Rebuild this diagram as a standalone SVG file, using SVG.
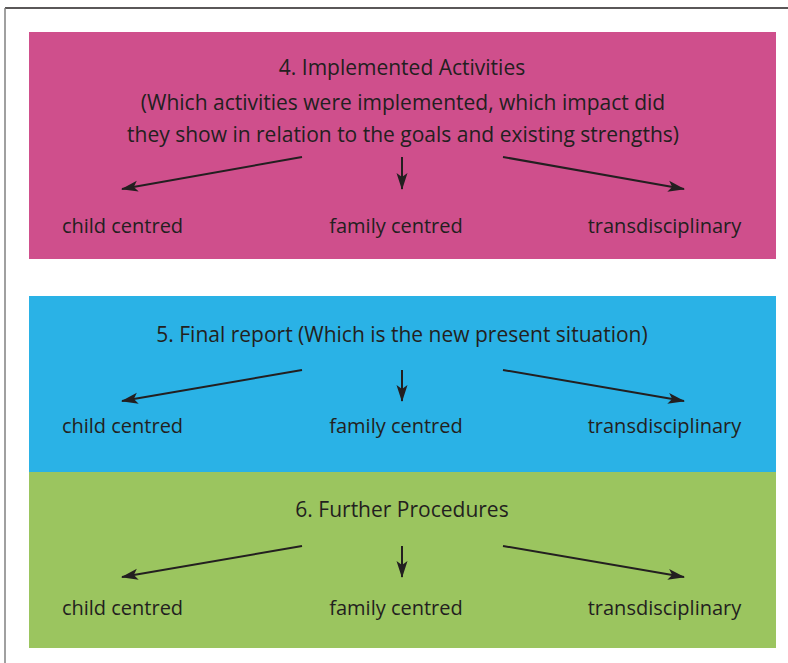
<svg xmlns="http://www.w3.org/2000/svg" width="788" height="663" viewBox="0 0 788 663">
<defs>
<style>
.t{font-family:"Open Sans","Liberation Sans",sans-serif;font-size:20px;fill:#231F20}
.h{font-size:21px}
.c{text-anchor:middle}
.a{stroke:#231F20;stroke-width:2;fill:none;marker-end:url(#ah)}
</style>
<marker id="ah" markerUnits="userSpaceOnUse" markerWidth="18" markerHeight="12" refX="16" refY="6" orient="auto" viewBox="0 0 18 12">
<path d="M0,0.5 L17,6 L0,11.5 L4,6 Z" fill="#231F20"/>
</marker>
</defs>
<rect width="788" height="663" fill="#fff"/>
<line x1="5" y1="8" x2="788" y2="8" stroke="#231F20" stroke-width="1.5"/>
<line x1="5" y1="8" x2="5" y2="663" stroke="#808080" stroke-width="1.5"/>
<g id="panel4">
<rect x="29" y="32" width="747" height="227" fill="#CF4F8C"/>
<text class="t h c" x="402" y="75">4. Implemented Activities</text>
<text class="t h c" x="403" y="110">(Which activities were implemented, which impact did</text>
<text class="t h c" x="403" y="142">they show in relation to the goals and existing strengths)</text>
<text class="t c" x="122.5" y="233">child centred</text>
<text class="t c" x="396" y="233">family centred</text>
<text class="t c" x="664.5" y="233">transdisciplinary</text>
</g>
<g id="panel5">
<rect x="29" y="296" width="747" height="176" fill="#2AB2E6"/>
<text class="t h c" x="402" y="342">5. Final report (Which is the new present situation)</text>
<text class="t c" x="122.5" y="433">child centred</text>
<text class="t c" x="396" y="433">family centred</text>
<text class="t c" x="664.5" y="433">transdisciplinary</text>
</g>
<g id="panel6">
<rect x="29" y="472" width="747" height="176" fill="#9BC55F"/>
<text class="t h c" x="402" y="517">6. Further Procedures</text>
<text class="t c" x="122.5" y="615">child centred</text>
<text class="t c" x="396" y="615">family centred</text>
<text class="t c" x="664.5" y="615">transdisciplinary</text>
</g>
<g id="connectors">
<line class="a" x1="302" y1="157" x2="122" y2="189"/>
<line class="a" x1="402" y1="157" x2="402" y2="189"/>
<line class="a" x1="503" y1="157" x2="684" y2="189"/>
<line class="a" x1="302" y1="370" x2="122" y2="401"/>
<line class="a" x1="402" y1="370" x2="402" y2="401"/>
<line class="a" x1="503" y1="370" x2="684" y2="401"/>
<line class="a" x1="302" y1="546" x2="122" y2="577"/>
<line class="a" x1="402" y1="546" x2="402" y2="577"/>
<line class="a" x1="503" y1="546" x2="684" y2="577"/>
</g>
</svg>
